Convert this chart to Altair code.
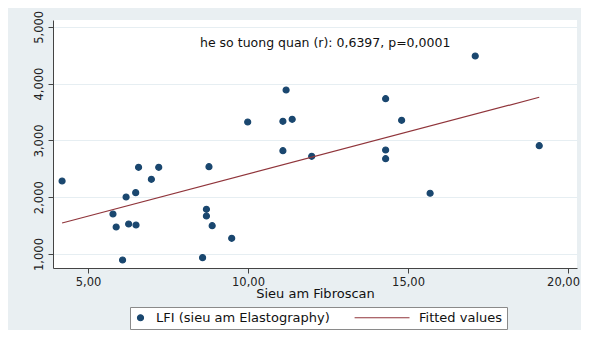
import altair as alt
import pandas as pd

# Data
fibroscan = [4.19, 5.78, 5.88, 6.08, 6.19, 6.27, 6.50, 6.49, 6.58, 6.98, 7.21,
             8.58, 8.70, 8.70, 8.78, 8.88, 9.49, 9.99, 11.09, 11.19, 11.38, 11.09,
             11.99, 14.30, 14.30, 14.30, 14.80, 17.10, 19.10, 15.69]
lfi = [2285, 1704, 1475, 894, 2003, 1528, 1510, 2080, 2526, 2315, 2526,
       935, 1787, 1669, 2537, 1498, 1276, 3324, 3336, 3887, 3371, 2819,
       2720, 3734, 2831, 2678, 3354, 4486, 2907, 2069]
fit_x = [4.19, 19.10]
fit_y = [1546, 3759]
series_names = ["LFI (sieu am Elastography)", "Fitted values"]
annot_text = ["he so tuong quan (r): 0,6397, p=0,0001"]
annot_x = [8.5]
annot_y = [4715]
x_ticks = [5, 10, 15, 20]
y_ticks = [1000, 2000, 3000, 4000, 5000]

pts = pd.DataFrame({"x": fibroscan, "y": lfi, "series": series_names[0]})
fit = pd.DataFrame({"x": fit_x, "y": fit_y, "series": series_names[1]})
ann = pd.DataFrame({"x": annot_x, "y": annot_y, "t": annot_text})

FONT = "DejaVu Sans"
NAVY = "#1a476f"
MAROON = "#90353b"

xscale = alt.Scale(domain=[3.906, 20.28], nice=False, zero=False)
yscale = alt.Scale(domain=[753, 5120], nice=False, zero=False)

xaxis = alt.Axis(values=x_ticks, title="Sieu am Fibroscan", grid=False,
                 labelExpr="replace(format(datum.value, '.2f'), '.', ',')",
                 labelOffset={"condition": {"test": "datum.value == 20", "value": -5},
                              "value": 0},
                 tickSize=5, labelPadding=3, titlePadding=0, titleFontSize=13)
yaxis = alt.Axis(values=y_ticks, title=None, grid=True, format=",.0f",
                 labelAngle=-90, tickSize=5, labelPadding=4)

legend = alt.Legend(
    title=None, orient="none", direction="horizontal",
    legendX=77, legendY=287,
    fillColor="white", strokeColor="#8a8a8a",
    padding=4, columnPadding=22, labelOffset=9, labelLimit=400,
    symbolSize=36, symbolStrokeWidth=1.2,
    labelFont=FONT, labelFontSize=13, labelColor="#111")

color = alt.Color("series:N", scale=alt.Scale(domain=series_names, range=[NAVY, MAROON]),
                  legend=legend)
shape = alt.Shape("series:N", scale=alt.Scale(domain=series_names,
                                              range=["circle", "M -16.3 0 L 2 0"]),
                  legend=legend)

points = alt.Chart(pts).mark_point(filled=False, fill=NAVY, size=36, opacity=1,
                                   strokeWidth=1.2).encode(
    x=alt.X("x:Q", scale=xscale, axis=xaxis),
    y=alt.Y("y:Q", scale=yscale, axis=yaxis),
    color=color,
    shape=shape,
)

line = alt.Chart(fit).mark_line(strokeWidth=1.2).encode(
    x=alt.X("x:Q", scale=xscale),
    y=alt.Y("y:Q", scale=yscale),
    color=alt.Color("series:N"),
)

text = alt.Chart(ann).mark_text(align="left", baseline="middle", font=FONT,
                                fontSize=12.5, color="#111").encode(
    x="x:Q", y="y:Q", text="t:N")

chart = alt.layer(points, line, text).properties(
    width=524, height=248,
    autosize=alt.AutoSizeParams(type="none"),
    padding={"left": 45, "top": 12, "right": 4, "bottom": 62},
    background="#e9eff2",
).configure_view(
    fill="white", stroke=None
).configure_axis(
    labelFont=FONT, labelFontSize=11.5, labelColor="#222",
    titleFont=FONT, titleFontSize=13, titleColor="#111", titleFontWeight="normal",
    domainColor="#444", tickColor="#444", gridColor="#e6eef2", gridWidth=1,
)

chart.save("out.html", embed_options={"renderer": "svg", "actions": False})
